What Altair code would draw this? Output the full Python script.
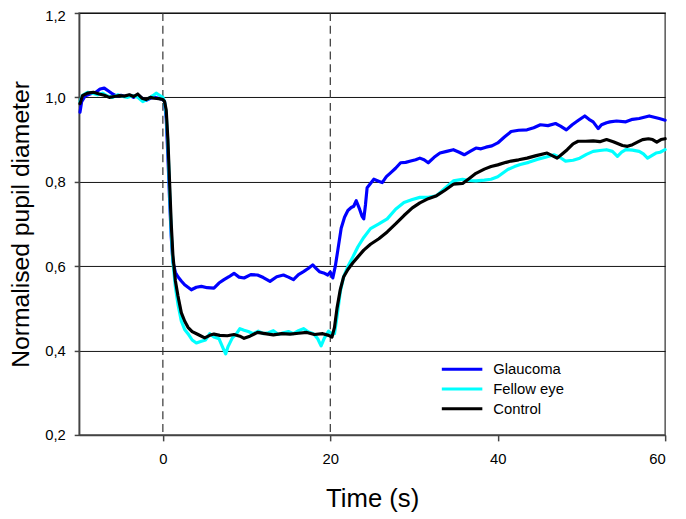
import altair as alt
import pandas as pd

# ---- data ----
series_names = ["Glaucoma", "Fellow eye", "Control"]
series_colors = ["#0000FF", "#00FFFF", "#000000"]
series_widths = [3.2, 3.2, 5.0]

glaucoma_t = [-9.9, -9.7, -9.3, -8.7, -8.0, -7.5, -7.0, -6.5, -6.0, -5.5, -5.0, -4.5, -4.0, -3.5, -3.0,
              -2.5, -2.0, -1.5, -1.0, -0.5, 0.0, 0.2, 0.4, 0.6, 0.8, 1.0, 1.2, 1.5, 1.8, 2.2, 2.6, 3.0,
              3.4, 4.0, 4.6, 5.3, 6.1, 6.7, 7.3, 7.9, 8.5, 9.1, 9.7, 10.5, 11.3, 12.0, 12.8, 13.6, 14.4,
              15.0, 15.6, 16.2, 16.8, 17.4, 17.9, 18.3, 18.7, 19.2, 19.7, 20.0, 20.3, 20.6, 20.9, 21.3,
              21.7, 22.1, 22.5, 22.8, 23.1, 23.5, 23.8, 24.0, 24.2, 24.4, 24.8, 25.2, 25.7, 26.2, 26.7,
              27.2, 27.8, 28.4, 29.0, 29.6, 30.2, 30.7, 31.2, 31.7, 32.4, 33.1, 33.9, 34.7, 35.4, 36.0,
              36.7, 37.4, 38.0, 38.6, 39.3, 40.0, 40.8, 41.6, 42.5, 43.5, 44.3, 45.1, 46.0, 46.9, 47.5,
              48.2, 48.9, 49.6, 50.4, 50.9, 51.4, 52.0, 52.4, 53.0, 53.4, 54.2, 55.3, 56.1, 56.9, 57.5,
              58.1, 58.7, 59.3, 60.0]
glaucoma_v = [0.965, 0.990, 1.003, 1.008, 1.012, 1.020, 1.022, 1.015, 1.008, 1.003, 1.005, 1.002, 1.005,
              1.000, 1.006, 0.998, 0.993, 0.998, 1.000, 0.998, 0.995, 0.990, 0.950, 0.860, 0.760, 0.670,
              0.610, 0.585, 0.575, 0.565, 0.556, 0.550, 0.544, 0.550, 0.552, 0.549, 0.548, 0.560, 0.568,
              0.575, 0.583, 0.574, 0.572, 0.580, 0.579, 0.573, 0.564, 0.575, 0.579, 0.574, 0.568, 0.580,
              0.587, 0.595, 0.603, 0.595, 0.587, 0.584, 0.579, 0.586, 0.572, 0.600, 0.638, 0.690, 0.716,
              0.732, 0.739, 0.742, 0.755, 0.735, 0.718, 0.712, 0.745, 0.786, 0.796, 0.806, 0.802, 0.798,
              0.812, 0.821, 0.832, 0.845, 0.846, 0.849, 0.852, 0.856, 0.852, 0.845, 0.858, 0.868, 0.872,
              0.876, 0.870, 0.864, 0.872, 0.880, 0.878, 0.882, 0.885, 0.892, 0.906, 0.919, 0.922, 0.923,
              0.928, 0.935, 0.933, 0.938, 0.932, 0.923, 0.935, 0.945, 0.956, 0.948, 0.942, 0.926, 0.935,
              0.940, 0.942, 0.944, 0.942, 0.948, 0.950, 0.953, 0.956, 0.953, 0.950, 0.946]

fellow_t = [-9.9, -9.6, -9.0, -8.4, -7.8, -7.2, -6.6, -6.0, -5.4, -4.8, -4.2, -3.6, -3.0, -2.4, -1.8,
            -1.2, -0.8, -0.4, 0.0, 0.2, 0.4, 0.6, 0.8, 1.0, 1.2, 1.5, 1.8, 2.2, 2.6, 3.0, 3.5, 4.0, 4.6,
            5.1, 5.6, 6.1, 6.7, 7.2, 7.5, 7.8, 8.3, 8.8, 9.2, 9.7, 10.2, 10.8, 11.4, 12.0, 12.6, 13.2,
            13.8, 14.4, 15.0, 15.6, 16.2, 16.8, 17.4, 18.0, 18.5, 18.9, 19.3, 19.8, 20.2, 20.5, 20.8,
            21.2, 21.6, 22.1, 22.7, 23.3, 24.0, 24.8, 25.8, 26.8, 27.8, 28.8, 29.8, 30.7, 31.7, 32.7,
            33.7, 34.7, 35.8, 36.6, 37.4, 38.4, 39.2, 40.0, 41.2, 42.0, 42.7, 43.7, 44.7, 45.7, 46.7,
            47.4, 48.1, 49.0, 49.8, 50.6, 51.4, 52.2, 53.0, 53.7, 54.3, 54.8, 55.3, 56.1, 56.9, 57.4,
            57.9, 58.4, 58.9, 59.4, 60.0]
fellow_v = [0.990, 1.005, 1.012, 1.010, 1.006, 1.010, 1.003, 1.000, 1.006, 1.002, 1.000, 1.004, 1.000,
            0.990, 0.996, 1.004, 1.010, 1.005, 1.000, 0.990, 0.960, 0.890, 0.780, 0.680, 0.610, 0.550,
            0.510, 0.470, 0.450, 0.440, 0.425, 0.418, 0.422, 0.425, 0.440, 0.432, 0.428, 0.405, 0.392,
            0.410, 0.430, 0.440, 0.452, 0.448, 0.445, 0.440, 0.446, 0.440, 0.442, 0.447, 0.438, 0.442,
            0.445, 0.440, 0.447, 0.452, 0.444, 0.440, 0.428, 0.411, 0.430, 0.446, 0.440, 0.440, 0.480,
            0.540, 0.575, 0.599, 0.622, 0.646, 0.668, 0.689, 0.700, 0.712, 0.735, 0.751, 0.758, 0.763,
            0.763, 0.767, 0.785, 0.802, 0.806, 0.803, 0.802, 0.804, 0.806, 0.812, 0.829, 0.836, 0.841,
            0.846, 0.853, 0.858, 0.864, 0.858, 0.849, 0.851, 0.856, 0.865, 0.872, 0.874, 0.876, 0.872,
            0.860, 0.870, 0.876, 0.875, 0.872, 0.866, 0.856, 0.862, 0.868, 0.870, 0.876]

control_t = [-9.9, -9.6, -9.0, -8.3, -7.6, -7.0, -6.4, -5.8, -5.2, -4.6, -4.0, -3.5, -3.0, -2.5, -2.0,
             -1.5, -1.0, -0.5, 0.0, 0.2, 0.4, 0.6, 0.8, 1.0, 1.2, 1.5, 1.8, 2.2, 2.6, 3.0, 3.5, 4.2, 5.0,
             5.6, 6.1, 6.8, 7.7, 8.5, 9.2, 9.7, 10.4, 11.3, 12.2, 13.2, 14.2, 15.2, 16.2, 17.2, 18.1,
             19.1, 19.8, 20.2, 20.5, 20.8, 21.2, 21.6, 22.1, 22.7, 23.3, 24.0, 24.8, 25.8, 26.8, 27.8,
             28.8, 29.8, 30.7, 31.7, 32.7, 33.7, 34.7, 35.8, 36.6, 37.4, 38.4, 39.2, 40.0, 41.0, 41.6,
             42.5, 43.5, 44.6, 45.9, 46.5, 47.1, 47.7, 48.3, 49.0, 49.6, 50.5, 51.4, 52.2, 53.0, 53.8,
             54.9, 55.5, 56.1, 56.8, 57.3, 58.0, 58.5, 59.0, 59.5, 60.0]
control_v = [0.985, 1.004, 1.010, 1.012, 1.008, 1.005, 1.000, 1.002, 1.004, 1.003, 1.006, 1.002, 1.008,
             0.998, 0.995, 1.000, 0.998, 0.997, 0.995, 0.990, 0.970, 0.900, 0.800, 0.700, 0.625, 0.565,
             0.530, 0.490, 0.470, 0.455, 0.445, 0.438, 0.430, 0.436, 0.439, 0.436, 0.435, 0.438, 0.434,
             0.429, 0.434, 0.443, 0.440, 0.437, 0.440, 0.439, 0.441, 0.443, 0.438, 0.440, 0.436, 0.432,
             0.455, 0.500, 0.545, 0.575, 0.592, 0.608, 0.622, 0.638, 0.652, 0.665, 0.681, 0.700, 0.720,
             0.738, 0.750, 0.760, 0.767, 0.780, 0.794, 0.796, 0.808, 0.820, 0.830, 0.836, 0.840, 0.846,
             0.849, 0.852, 0.856, 0.862, 0.868, 0.862, 0.856, 0.866, 0.876, 0.890, 0.896, 0.896, 0.897,
             0.895, 0.900, 0.895, 0.886, 0.884, 0.888, 0.895, 0.900, 0.902, 0.900, 0.894, 0.900, 0.902]

stimulus_times = [0, 20]
x_ticks = [0, 20, 40, 60]
y_ticks = [0.2, 0.4, 0.6, 0.8, 1.0, 1.2]

rows = []
for name, ts, vs in [("Glaucoma", glaucoma_t, glaucoma_v),
                     ("Fellow eye", fellow_t, fellow_v),
                     ("Control", control_t, control_v)]:
    for i, (t, v) in enumerate(zip(ts, vs)):
        rows.append({"series": name, "t": t, "v": v, "i": i})
df = pd.DataFrame(rows)
stim = pd.DataFrame({"t": stimulus_times})

FONT = "Liberation Sans"

x_enc = alt.X("t:Q", scale=alt.Scale(domain=[-10, 60], nice=False, zero=False),
              axis=alt.Axis(title="Time (s)", values=x_ticks, grid=False, tickSize=6,
                            labelPadding=11, titlePadding=19, labelFontSize=15, titleFontSize=26,
                            titleFontWeight="normal"))
y_enc = alt.Y("v:Q", scale=alt.Scale(domain=[0.2, 1.2], nice=False, zero=False),
              axis=alt.Axis(title="Normalised pupil diameter", values=y_ticks, grid=True,
                            tickSize=5, labelPadding=9, titlePadding=11, labelFontSize=15,
                            titleFontSize=25, titleFontWeight="normal",
                            labelOffset={"condition": {"test": "datum.value > 1.15", "value": 3},
                                         "value": 0},
                            labelExpr="replace(format(datum.value, '.1f'), '.', ',')"))

rules = alt.Chart(stim).mark_rule(color="#333333", strokeWidth=1.2, strokeDash=[8, 5]).encode(
    x=alt.X("t:Q", scale=alt.Scale(domain=[-10, 60], nice=False, zero=False))
)

lines = alt.Chart(df).mark_line(strokeJoin="round", strokeCap="round").encode(
    x=x_enc,
    y=y_enc,
    order="i:Q",
    color=alt.Color("series:N", scale=alt.Scale(domain=series_names, range=series_colors),
                    legend=alt.Legend(title=None)),
    strokeWidth=alt.StrokeWidth("series:N", scale=alt.Scale(domain=series_names, range=series_widths),
                                legend=alt.Legend(title=None)),
)

chart = alt.layer(rules, lines).properties(
    width=593, height=427,
    autosize=alt.AutoSizeParams(type="none"),
    padding={"left": 72, "top": 2, "right": 13, "bottom": 80},
).configure_view(
    stroke="#555555", strokeWidth=1.5
).configure_axis(
    labelFont=FONT, titleFont=FONT, labelColor="#000000", titleColor="#000000",
    domainColor="#444444", domainWidth=1.5, tickColor="#444444", tickWidth=1.5,
    gridColor="#111111", gridWidth=1, gridOpacity=1
).configure_legend(
    orient="none", legendX=365, legendY=352, padding=0,
    symbolType="stroke", symbolSize=1681, clipHeight=17, rowPadding=3,
    labelOffset=9, labelFont=FONT, labelFontSize=15, labelColor="#000000"
)

chart.save("out.html", embed_options={"renderer": "svg", "actions": False})
